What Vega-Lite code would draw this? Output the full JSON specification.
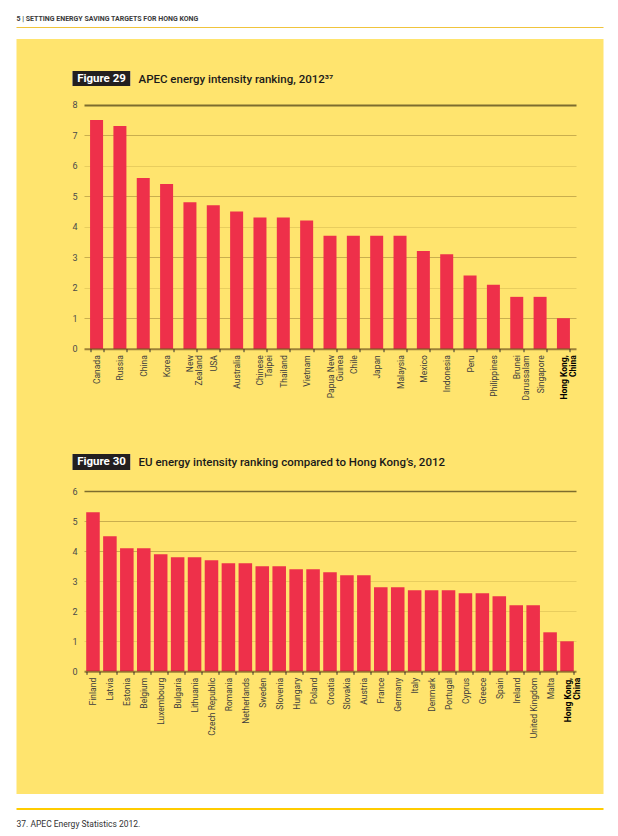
{
  "$schema": "https://vega.github.io/schema/vega-lite/v6.json",
  "background": "white",
  "padding": {"left": 12.5, "top": 15, "right": 0, "bottom": 0},
  "spacing": 0,
  "config": {
    "view": {"stroke": null},
    "font": "Roboto, Liberation Sans, sans-serif",
    "concat": {"spacing": 0}
  },
  "datasets": {
    "empty": [],
    "apec": [
      {"economy": "Canada", "intensity": 7.5},
      {"economy": "Russia", "intensity": 7.3},
      {"economy": "China", "intensity": 5.6},
      {"economy": "Korea", "intensity": 5.4},
      {"economy": "New Zealand", "intensity": 4.8},
      {"economy": "USA", "intensity": 4.7},
      {"economy": "Australia", "intensity": 4.5},
      {"economy": "Chinese Taipei", "intensity": 4.3},
      {"economy": "Thailand", "intensity": 4.3},
      {"economy": "Vietnam", "intensity": 4.2},
      {"economy": "Papua New Guinea", "intensity": 3.7},
      {"economy": "Chile", "intensity": 3.7},
      {"economy": "Japan", "intensity": 3.7},
      {"economy": "Malaysia", "intensity": 3.7},
      {"economy": "Mexico", "intensity": 3.2},
      {"economy": "Indonesia", "intensity": 3.1},
      {"economy": "Peru", "intensity": 2.4},
      {"economy": "Philippines", "intensity": 2.1},
      {"economy": "Brunei Darussalam", "intensity": 1.7},
      {"economy": "Singapore", "intensity": 1.7},
      {"economy": "Hong Kong, China", "intensity": 1.0}
    ],
    "eu": [
      {"economy": "Finland", "intensity": 5.3},
      {"economy": "Latvia", "intensity": 4.5},
      {"economy": "Estonia", "intensity": 4.1},
      {"economy": "Belgium", "intensity": 4.1},
      {"economy": "Luxembourg", "intensity": 3.9},
      {"economy": "Bulgaria", "intensity": 3.8},
      {"economy": "Lithuania", "intensity": 3.8},
      {"economy": "Czech Republic", "intensity": 3.7},
      {"economy": "Romania", "intensity": 3.6},
      {"economy": "Netherlands", "intensity": 3.6},
      {"economy": "Sweden", "intensity": 3.5},
      {"economy": "Slovenia", "intensity": 3.5},
      {"economy": "Hungary", "intensity": 3.4},
      {"economy": "Poland", "intensity": 3.4},
      {"economy": "Croatia", "intensity": 3.3},
      {"economy": "Slovakia", "intensity": 3.2},
      {"economy": "Austria", "intensity": 3.2},
      {"economy": "France", "intensity": 2.8},
      {"economy": "Germany", "intensity": 2.8},
      {"economy": "Italy", "intensity": 2.7},
      {"economy": "Denmark", "intensity": 2.7},
      {"economy": "Portugal", "intensity": 2.7},
      {"economy": "Cyprus", "intensity": 2.6},
      {"economy": "Greece", "intensity": 2.6},
      {"economy": "Spain", "intensity": 2.5},
      {"economy": "Ireland", "intensity": 2.2},
      {"economy": "United Kingdom", "intensity": 2.2},
      {"economy": "Malta", "intensity": 1.3},
      {"economy": "Hong Kong, China", "intensity": 1.0}
    ]
  },
  "vconcat": [
    {
      "width": 587, "height": 1,
      "data": {"name": "empty"},
      "mark": "point",
      "view": {"fill": "#f0c43c"},
      "title": {"text": "5 | SETTING ENERGY SAVING TARGETS FOR HONG KONG", "anchor": "start", "fontSize": 7, "fontWeight": "bold", "color": "#3a3a3a", "offset": 5, "font": "Roboto, sans-serif"}
    },
    {
      "width": 587, "height": 11,
      "data": {"name": "empty"},
      "mark": "point"
    },
    {
      "width": 587, "height": 32,
      "data": {"name": "empty"},
      "mark": "point",
      "view": {"fill": "#ffe46e"}
    },
    {
      "spacing": 0,
      "hconcat": [
        {"width": 56, "height": 15, "data": {"name": "empty"}, "mark": "point", "view": {"fill": "#ffe46e"}},
        {
          "width": 58, "height": 15,
          "data": {"values": [{"label": "Figure 29"}]},
          "mark": {"type": "text", "color": "white", "fontSize": 11.5, "fontWeight": "bold", "font": "Roboto, sans-serif"},
          "encoding": {"text": {"field": "label"}},
          "view": {"fill": "#231f20"}
        },
        {
          "width": 473, "height": 15,
          "data": {"name": "empty"}, "mark": "point", "view": {"fill": "#ffe46e"},
          "title": {"text": "APEC energy intensity ranking, 2012³⁷", "anchor": "start", "frame": "group", "offset": -14, "dx": 8, "fontSize": 11.5, "fontWeight": 500, "color": "#1a1a1a", "font": "Roboto, sans-serif"}
        }
      ]
    },
    {
      "width": 587, "height": 368,
      "data": {"name": "apec"},
      "view": {"fill": "#ffe46e"},
      "mark": {"type": "bar", "color": "#ee304a"},
      "encoding": {
        "x": {
          "field": "economy", "type": "nominal", "sort": null,
          "scale": {"range": [67.5, 559.5], "paddingInner": 0.443, "paddingOuter": 0.26},
          "axis": {
            "title": null, "offset": -105.3, "zindex": 1,
            "labelAngle": -90, "labelFontSize": 8.5, "labelFont": "Roboto, sans-serif", "labelLineHeight": 9, "labelPadding": 3,
            "labelColor": {"condition": {"test": "datum.value === 'Hong Kong, China'", "value": "#000000"}, "value": "#3d3d3d"},
            "labelFontWeight": {"condition": {"test": "datum.value === 'Hong Kong, China'", "value": "bold"}, "value": "normal"},
            "labelExpr": "datum.value === 'New Zealand' ? ['New', 'Zealand'] : datum.value === 'Chinese Taipei' ? ['Chinese', 'Taipei'] : datum.value === 'Papua New Guinea' ? ['Papua New', 'Guinea'] : datum.value === 'Brunei Darussalam' ? ['Brunei', 'Darussalam'] : datum.value === 'Hong Kong, China' ? ['Hong Kong,', 'China'] : datum.value",
            "tickBand": "extent", "tickSize": 3, "tickColor": "#333333", "tickWidth": 1,
            "domainColor": "#3a1c00", "domainOpacity": 0.5, "domainWidth": 2
          }
        },
        "y": {
          "field": "intensity", "type": "quantitative",
          "scale": {"domain": [-3.452, 8.613], "nice": false, "zero": false},
          "axis": {
            "title": null, "orient": "left", "offset": -67.5, "values": [0, 1, 2, 3, 4, 5, 6, 7, 8],
            "domain": false, "ticks": false, "labelPadding": 7, "labelFontSize": 9, "labelColor": "#4a4a4a", "labelFont": "Roboto, sans-serif",
            "grid": true,
            "gridColor": {"condition": [{"test": "datum.value === 8", "value": "#7d6c2e"}, {"test": "datum.value % 2 === 1", "value": "#c9ae4e"}], "value": "#e8cd5e"},
            "gridWidth": {"condition": {"test": "datum.value === 8", "value": 2}, "value": 1.2},
            "gridOpacity": {"condition": {"test": "datum.value === 0", "value": 0}, "value": 1}
          }
        }
      }
    },
    {
      "spacing": 0,
      "hconcat": [
        {"width": 56, "height": 16, "data": {"name": "empty"}, "mark": "point", "view": {"fill": "#ffe46e"}},
        {
          "width": 58, "height": 16,
          "data": {"values": [{"label": "Figure 30"}]},
          "mark": {"type": "text", "color": "white", "fontSize": 11.5, "fontWeight": "bold", "font": "Roboto, sans-serif"},
          "encoding": {"text": {"field": "label"}},
          "view": {"fill": "#231f20"}
        },
        {
          "width": 473, "height": 16,
          "data": {"name": "empty"}, "mark": "point", "view": {"fill": "#ffe46e"},
          "title": {"text": "EU energy intensity ranking compared to Hong Kong’s, 2012", "anchor": "start", "frame": "group", "offset": -14, "dx": 8, "fontSize": 11.5, "fontWeight": 500, "color": "#1a1a1a", "font": "Roboto, sans-serif"}
        }
      ]
    },
    {
      "width": 587, "height": 324,
      "data": {"name": "eu"},
      "view": {"fill": "#ffe46e"},
      "mark": {"type": "bar", "color": "#ee304a"},
      "encoding": {
        "x": {
          "field": "economy", "type": "nominal", "sort": null,
          "scale": {"range": [67.5, 559.5], "paddingInner": 0.2, "paddingOuter": 0.13},
          "axis": {
            "title": null, "offset": -122.7, "zindex": 1,
            "labelAngle": -90, "labelFontSize": 8.5, "labelFont": "Roboto, sans-serif", "labelLineHeight": 9, "labelPadding": 3,
            "labelColor": {"condition": {"test": "datum.value === 'Hong Kong, China'", "value": "#000000"}, "value": "#3d3d3d"},
            "labelFontWeight": {"condition": {"test": "datum.value === 'Hong Kong, China'", "value": "bold"}, "value": "normal"},
            "labelExpr": "datum.value === 'Hong Kong, China' ? ['Hong Kong,', 'China'] : datum.value",
            "tickBand": "extent", "tickSize": 3, "tickColor": "#333333", "tickWidth": 1,
            "domainColor": "#3a1c00", "domainOpacity": 0.5, "domainWidth": 2
          }
        },
        "y": {
          "field": "intensity", "type": "quantitative",
          "scale": {"domain": [-4.09, 6.71], "nice": false, "zero": false},
          "axis": {
            "title": null, "orient": "left", "offset": -67.5, "values": [0, 1, 2, 3, 4, 5, 6],
            "domain": false, "ticks": false, "labelPadding": 7, "labelFontSize": 9, "labelColor": "#4a4a4a", "labelFont": "Roboto, sans-serif",
            "grid": true,
            "gridColor": {"condition": [{"test": "datum.value === 6", "value": "#7d6c2e"}, {"test": "datum.value >= 4", "value": "#c9ae4e"}], "value": "#e8cd5e"},
            "gridWidth": {"condition": {"test": "datum.value === 6", "value": 1.5}, "value": 1.2},
            "gridOpacity": {"condition": {"test": "datum.value === 0", "value": 0}, "value": 1}
          }
        }
      }
    },
    {
      "width": 587, "height": 14,
      "data": {"name": "empty"},
      "mark": "point"
    },
    {
      "width": 587, "height": 2,
      "data": {"name": "empty"},
      "mark": "point",
      "view": {"fill": "#ffcc00"},
      "title": {"text": "37.  APEC Energy Statistics 2012.", "orient": "bottom", "anchor": "start", "fontSize": 8.5, "fontWeight": "normal", "color": "#333333", "offset": 10, "font": "Roboto, sans-serif"}
    }
  ]
}
